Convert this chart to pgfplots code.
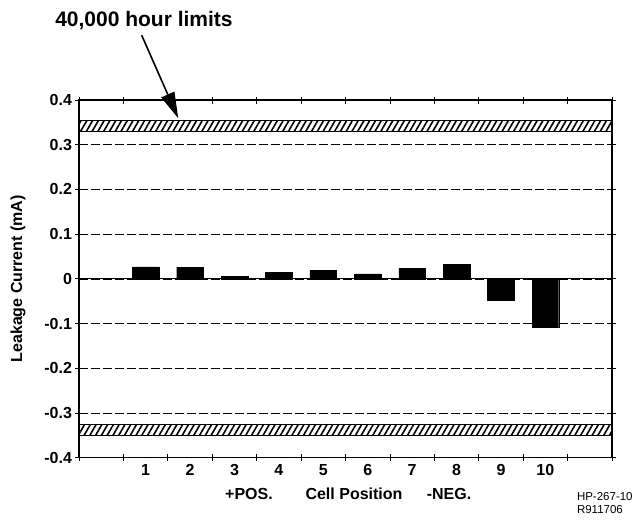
\documentclass[border=0pt]{standalone}
\usepackage{pgfplots}
\pgfplotsset{compat=1.18}
\usepackage{fontspec}
\setmainfont{Liberation Sans}
\usetikzlibrary{patterns.meta,arrows.meta}

\begin{document}
\begin{tikzpicture}
\begin{axis}[
  scale only axis, width=533pt, height=357.7pt,
  xmin=-0.5, xmax=11.5, ymin=-0.4, ymax=0.4,
  axis line style={line width=1.1pt},
  xtick={1,2,3,4,5,6,7,8,9,10},
  xticklabels={1,2,3,4,5,6,7,8,9,10},
  major x tick style={draw=none},
  minor xtick={-0.5,0.5,1.5,2.5,3.5,4.5,5.5,6.5,7.5,8.5,9.5,10.5,11.5},
  ytick={-0.4,-0.3,-0.2,-0.1,0,0.1,0.2,0.3,0.4},
  yticklabels={-0.4,-0.3,-0.2,-0.1,0,0.1,0.2,0.3,0.4},
  tick align=center,
  major tick length=7pt, minor tick length=7pt,
  tick style={line width=0.8pt, black},
  ymajorgrids,
  major grid style={dash pattern=on 9pt off 3pt, line width=0.6pt, black},
  ticklabel style={font=\fontsize{16}{18}\selectfont\bfseries},
  ylabel={Leakage Current (mA)},
  ylabel style={font=\fontsize{16}{18}\selectfont\bfseries, at={(axis description cs:-0.1145,0.5)}, anchor=center},
  xlabel={\makebox[0pt]{+POS.}\hspace{105pt}\makebox[0pt]{Cell Position}\hspace{95pt}\makebox[0pt]{-NEG.}},
  xlabel style={font=\fontsize{16}{18}\selectfont\bfseries, at={(axis description cs:0.5,0)}, anchor=center, yshift=-36pt, xshift=3.5pt},
  clip=false,
]
% limit bands
\addplot[draw=black, line width=1pt, pattern={Lines[angle=60,distance=5pt,line width=1.6pt]}]
  coordinates {(-0.5,0.33) (11.5,0.33) (11.5,0.355) (-0.5,0.355)} -- cycle;
\addplot[draw=black, line width=1pt, pattern={Lines[angle=60,distance=5pt,line width=1.6pt]}]
  coordinates {(-0.5,-0.325) (11.5,-0.325) (11.5,-0.35) (-0.5,-0.35)} -- cycle;
% zero line
\addplot[black, line width=1pt] coordinates {(-0.5,0) (11.5,0)};
% bars
\addplot[ybar, bar width=0.6, fill=black, draw=black] coordinates {
  (1,0.027) (2,0.026) (3,0.006) (4,0.014) (5,0.019)
  (6,0.011) (7,0.024) (8,0.033) (9,-0.048) (10,-0.108)};
% annotation
\node[font=\fontsize{21}{25}\selectfont\bfseries] at (axis cs:0.963,0.578) {40,000 hour limits};
\draw[line width=1.6pt, -{Triangle[length=26pt,width=14pt]}] (axis cs:0.911,0.545) -- (axis cs:1.735,0.359);
\node[anchor=north west, align=left, font=\fontsize{11.5}{13}\selectfont, inner sep=0pt] at (axis description cs:0.934,-0.098) {HP-267-10\\R911706};
\end{axis}
\pgfresetboundingbox
\path[use as bounding box] (-79pt,-63.3pt) rectangle (554pt,457.7pt);
\end{tikzpicture}
\end{document}
